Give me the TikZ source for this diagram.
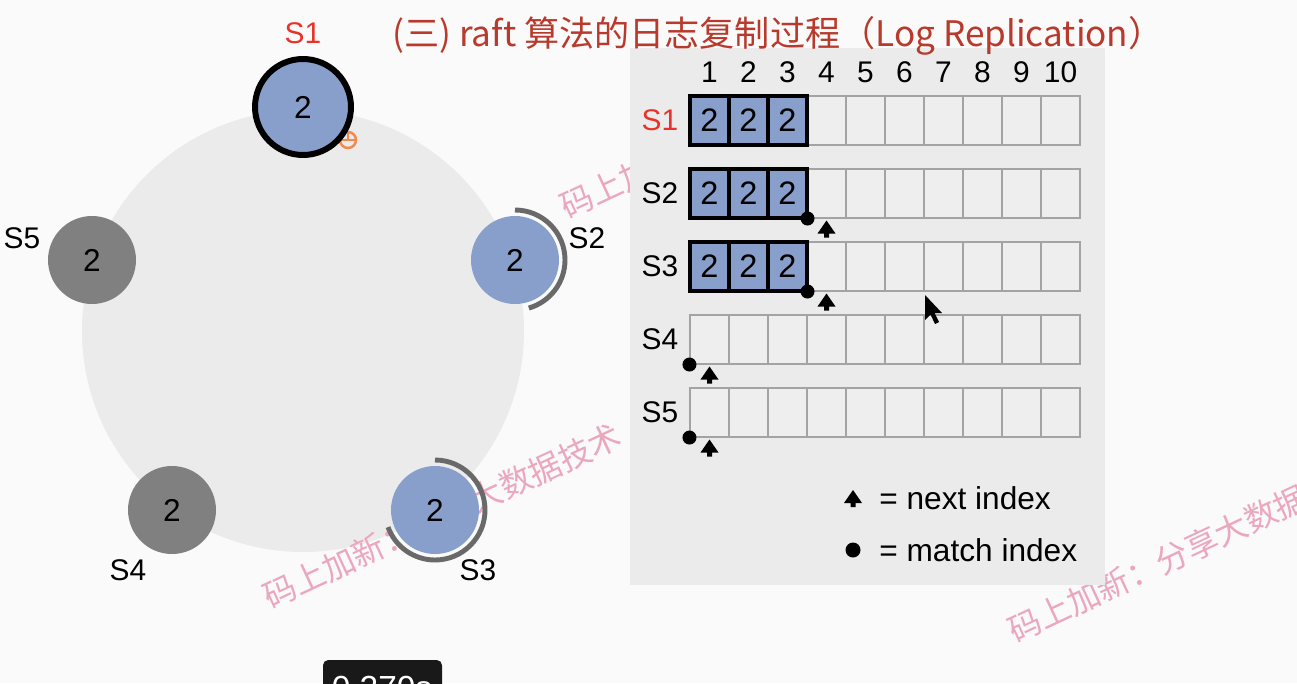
\documentclass[tikz,border=0pt]{standalone}
\usepackage{fontspec}
\setmainfont{Liberation Sans}
\newfontfamily\cjk{Noto Sans CJK SC}
\usetikzlibrary{positioning}
\definecolor{bgc}{HTML}{FAFAFA}
\definecolor{panelc}{HTML}{EBEBEB}
\definecolor{nodeblue}{HTML}{889FCB}
\definecolor{nodegrey}{HTML}{808080}
\definecolor{arcgrey}{HTML}{696969}
\definecolor{leadred}{HTML}{E8332A}
\definecolor{titlered}{HTML}{B73A2C}
\definecolor{markpink}{HTML}{EBA7BE}
\definecolor{cellline}{HTML}{A3A3A3}
\definecolor{timerorange}{HTML}{F2894F}
\tikzset{
  server/.style={circle, minimum size=1.76cm, inner sep=0pt, font=\fontsize{18}{20}\selectfont},
  follower/.style={server, fill=nodeblue},
  offline/.style={server, fill=nodegrey},
  leader/.style={server, fill=nodeblue, draw=black, line width=3.4pt, minimum size=1.92cm},
  ring/.style={arcgrey, line width=2.8pt},
  lbl/.style={inner sep=0pt, font=\fontsize{17}{19}\selectfont},
  cell/.style={rectangle, minimum width=0.78cm, minimum height=0.98cm, inner sep=0pt, draw=cellline, line width=0.6pt, fill=panelc!85!white},
  entry/.style={cell, draw=black, line width=2.2pt, fill=nodeblue, font=\fontsize{18.5}{20}\selectfont},
  wmark/.style={markpink, rotate=25, inner sep=0pt, font=\cjk\fontsize{18.5}{20}\selectfont},
  nextidx/.pic={\fill (-9,-15) -- (0,-2) -- (9,-15) -- (2.5,-15) -- (2.5,-19) -- (-2.5,-19) -- (-2.5,-15) -- cycle;}
}
\begin{document}
\begin{tikzpicture}[x=0.02cm, y=0.02cm]
\useasboundingbox (0,0) rectangle (1297,-683);
\clip (0,0) rectangle (1297,-683);
\fill[bgc] (0,0) rectangle (1297,-683);
% cluster
\fill[panelc] (303,-331) circle (221);
% watermarks
\begin{scope}
\clip (0,-50) rectangle (1297,-683);
\node[wmark] (wm1) at (739,-126) {码上加新：分享大数据技术};
\end{scope}
\node[wmark] (wm2) at (442,-516) {码上加新：分享大数据技术};
\node[wmark] (wm3) at (1187,-550) {码上加新：分享大数据技术};
% log panel
\fill[panelc] (630,-48) rectangle (1105,-585);
\node[titlered, anchor=west, inner sep=0pt, font=\cjk\fontsize{20}{24}\selectfont] (title) at (392,-36) {(三) raft 算法的日志复制过程（Log Replication）};
\foreach \i in {1,...,10}
  \node[lbl] (n\i) at (670.5+39*\i,-72) {\i};
\foreach \r in {1,...,5} {
  \foreach \i in {1,...,10}
    \node[cell] (c\r-\i) at (670.5+39*\i,-120.5-73*\r+73) {};
}
\foreach \r/\col in {1/leadred,2/black,3/black,4/black,5/black}
  \node[lbl, text=\col, left=0.22cm of c\r-1] (l\r) {S\r};
\foreach \r in {1,2,3}
  \foreach \i in {1,2,3}
    \node[entry] (e\r-\i) at (c\r-\i) {2};
% match index / next index
\fill (c2-3.south east) circle (7);
\fill (c3-3.south east) circle (7);
\fill (c4-1.south west) circle (7);
\fill (c5-1.south west) circle (7);
\pic at (c2-4.south) {nextidx};
\pic at (c3-4.south) {nextidx};
\pic at (c4-1.south) {nextidx};
\pic at (c5-1.south) {nextidx};
% legend
\pic at (853,-488) {nextidx};
\node[lbl, anchor=west, font=\fontsize{18}{20}\selectfont] (nxt) at (879,-498) {= next index};
\fill (853,-550) circle (7.5);
\node[lbl, anchor=west, font=\fontsize{18}{20}\selectfont] (mtc) at (879,-550) {= match index};
% servers
\draw[timerorange, line width=1.4pt] (348,-140) circle (8);
\draw[timerorange, line width=1.4pt] (340,-140) -- (356,-140);
\draw[timerorange, line width=1.4pt] (348,-132) -- (348,-140);
\node[leader] (s1) at (303,-107) {2};
\node[follower] (s2) at (515,-260) {2};
\node[follower] (s3) at (435,-510) {2};
\node[offline] (s4) at (172,-510) {2};
\node[offline] (s5) at (92,-260) {2};
\draw[ring] (s2.center) ++(90:50) arc[start angle=90, end angle=-74, radius=50];
\draw[ring] (s3.center) ++(90:50) arc[start angle=90, end angle=-160, radius=50];
\node[lbl, text=leadred] (t1) at (303,-33) {S1};
\node[lbl] (t2) at (587,-238) {S2};
\node[lbl] (t3) at (478,-570) {S3};
\node[lbl] (t4) at (128,-570) {S4};
\node[lbl] (t5) at (22,-238) {S5};
% pointer
\fill[black] (925,-295) -- (925,-320) -- (930.5,-314.5) -- (935,-324) -- (939,-322) -- (934.5,-313) -- (942,-313) -- cycle;
% timer
\fill[black!90, rounded corners=3] (323,-660) rectangle (442,-710);
\node[lbl, text=white, font=\fontsize{19}{21}\selectfont] (clock) at (382,-688) {0.270s};
\end{tikzpicture}
\end{document}
